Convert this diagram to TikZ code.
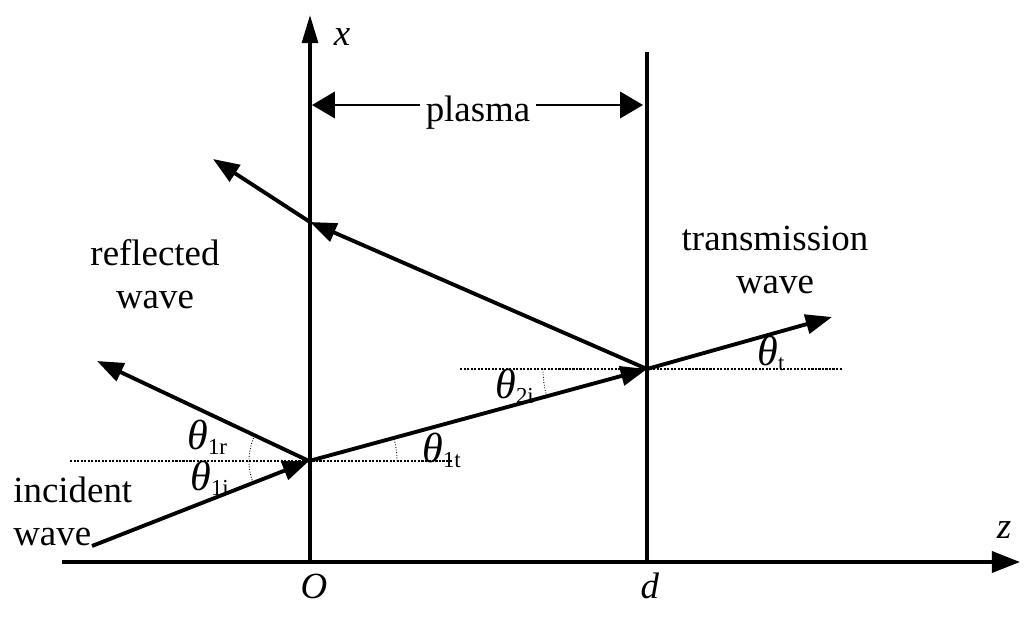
\documentclass[tikz,border=0pt]{standalone}
\usepackage{fontspec}
\setmainfont{Liberation Serif}
\usetikzlibrary{arrows.meta}
\newcommand{\angsub}[1]{\textit{θ}\raisebox{-3pt}{\fontsize{13}{13}\selectfont #1}}
\begin{document}
\begin{tikzpicture}[x=0.02cm,y=0.02cm,
	every node/.style={font=\fontsize{21}{24}\selectfont},
	ray/.style={line width=2.2pt,-{Triangle[length=15pt,width=11pt]}},
	axis/.style={line width=2pt,-{Triangle[length=16pt,width=12pt]}},
	wall/.style={line width=2pt},
	dimarr/.style={line width=1.3pt,-{Triangle[length=13pt,width=15pt]}},
	guide/.style={line width=1.6pt,dash pattern=on 1.2pt off 0.8pt},
	angarc/.style={line width=0.5pt,densely dotted},
	ang/.style={font=\fontsize{24}{24}\selectfont,inner sep=0pt,anchor=base west}]
		\useasboundingbox (0,0) rectangle (1031,620);
		\coordinate (O) at (310,58);
		\coordinate (D) at (647,58);
		\coordinate (zbeg) at (62,58);
		\coordinate (zend) at (1020,58);
		\coordinate (xend) at (310,605);
		\coordinate (dtop) at (647,568);
		\coordinate (pl) at (312,515);
		\coordinate (pr) at (643,515);
		\coordinate (P1) at (309,159);
		\coordinate (P2) at (647,251);
		\coordinate (P3) at (310,398);
		\coordinate (S) at (92,74);
		\coordinate (R1) at (97,259);
		\coordinate (R2) at (213,461);
		\coordinate (T) at (832,303);
		
		\draw[axis] (zbeg) -- (zend);
		\draw[axis,-{Triangle[length=16pt,width=9pt]}] (O) -- (xend);
		\draw[wall] (D) -- (dtop);
		
		\node[anchor=base] (plasma) at (478,499) {plasma};
		\draw[dimarr] (plasma.west |- pl) -- (pl);
		\draw[dimarr] (plasma.east |- pr) -- (pr);
		
		\draw[guide] (P1) ++(-239,0) -- ++(383,0);
		\draw[guide] (P2) ++(-187,0) -- ++(382,0);
		
		\draw[ray] (S) -- (P1);
		\draw[ray] (P1) -- (R1);
		\draw[ray] (P1) -- (P2);
		\draw[ray] (P2) -- (T);
		\draw[ray] (P2) -- (P3);
		\draw[ray] (P3) -- (R2);
		
		\draw[angarc] (P1) ++(155:60) arc[start angle=155,end angle=201,radius=60];
		\draw[angarc] (P1) ++(0:88) arc[start angle=0,end angle=15,radius=88];
		\draw[angarc] (P2) ++(180:104) arc[start angle=180,end angle=195,radius=104];
		
		\node[ang] (th1r) at (187,171) {\angsub{1r}};
		\node[ang] (th1i) at (190,130) {\angsub{1i}};
		\node[ang] (th1t) at (422,158) {\angsub{1t}};
		\node[ang] (th2i) at (495,222) {\angsub{2i}};
		\node[ang] (tht) at (757,255) {\angsub{t}};
		
		\node[anchor=base] (xlab) at (342,575) {\textit{x}};
		\node[anchor=base] (zlab) at (1004,82) {\textit{z}};
		\node[anchor=base] (olab) at (314,22) {\textit{O}};
		\node[anchor=base] (dlab) at (650,22) {\textit{d}};
		
		\node[anchor=base,align=center] (refl) at (155,312) {reflected\\wave};
		\node[anchor=base,align=center] (trans) at (775,327) {transmission\\wave};
		\node[anchor=base west,align=left,inner sep=0pt] (inc) at (13,75) {incident\\wave};
\end{tikzpicture}
\end{document}
